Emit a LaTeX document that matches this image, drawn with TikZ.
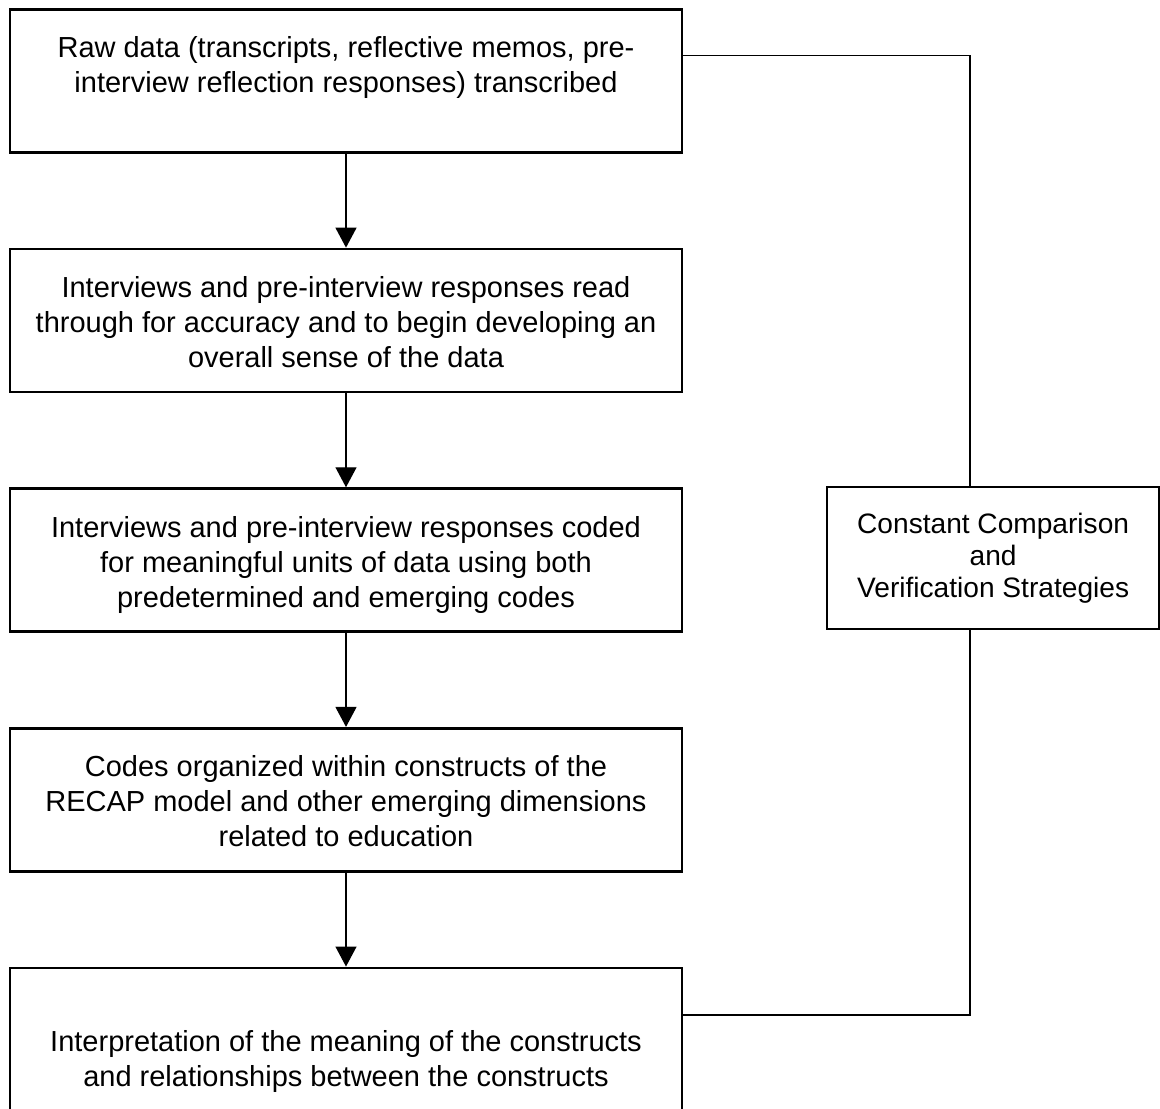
\documentclass[tikz,border=0pt]{standalone}
\usepackage{fontspec}
\setmainfont{Liberation Sans}
\usetikzlibrary{positioning,arrows.meta}
\newcommand{\stepstext}[1]{\parbox[c][2.86cm][t]{13.3cm}{\centering\rule{0pt}{0.97cm}#1}}

\begin{document}
\begin{tikzpicture}[every node/.style={inner sep=0pt},
  node distance=1.88cm,
  stepbox/.style={draw=black, line width=1.5pt, minimum width=13.44cm, minimum height=2.86cm,
    font=\fontsize{16.5pt}{19.9pt}\selectfont},
  sidebox/.style={draw=black, line width=1.3pt, minimum width=6.64cm, minimum height=2.84cm,
    align=center, font=\fontsize{16pt}{18.2pt}\selectfont},
  flow/.style={line width=0.75pt, -{Triangle[length=0.4cm, width=0.42cm]}},
  loopline/.style={line width=0.75pt}]
  \useasboundingbox (0,0) rectangle (23.2,-22.16);
  % main steps
  \node[stepbox, anchor=north] (s1) at (6.92,-0.16) {\stepstext{Raw data (transcripts, reflective memos, pre-\\interview reflection responses) transcribed}};
  \node[stepbox, below=of s1] (s2) {\stepstext{Interviews and pre-interview responses read\\through for accuracy and to begin developing an\\overall sense of the data}};
  \node[stepbox, below=of s2] (s3) {\stepstext{Interviews and pre-interview responses coded\\for meaningful units of data using both\\predetermined and emerging codes}};
  \node[stepbox, below=of s3] (s4) {\stepstext{Codes organized within constructs of the\\RECAP model and other emerging dimensions\\related to education}};
  \node[stepbox, below=of s4] (s5) {\stepstext{\mbox{}\\Interpretation of the meaning of the constructs\\and relationships between the constructs}};
  \draw[flow] (s1) -- (s2);
  \draw[flow] (s2) -- (s3);
  \draw[flow] (s3) -- (s4);
  \draw[flow] (s4) -- (s5);
  % side loop
  \node[sidebox, anchor=north west] (cv) at (16.52,-9.72) {Constant Comparison\\and\\Verification Strategies};
  \coordinate (ltop) at (19.4,-1.11);
  \coordinate (lbot) at (19.4,-20.3);
  \draw[loopline] (ltop -| s1.east) -- (ltop) -- (ltop |- cv.north);
  \draw[loopline] (lbot |- cv.south) -- (lbot) -- (lbot -| s5.east);
\end{tikzpicture}
\end{document}
